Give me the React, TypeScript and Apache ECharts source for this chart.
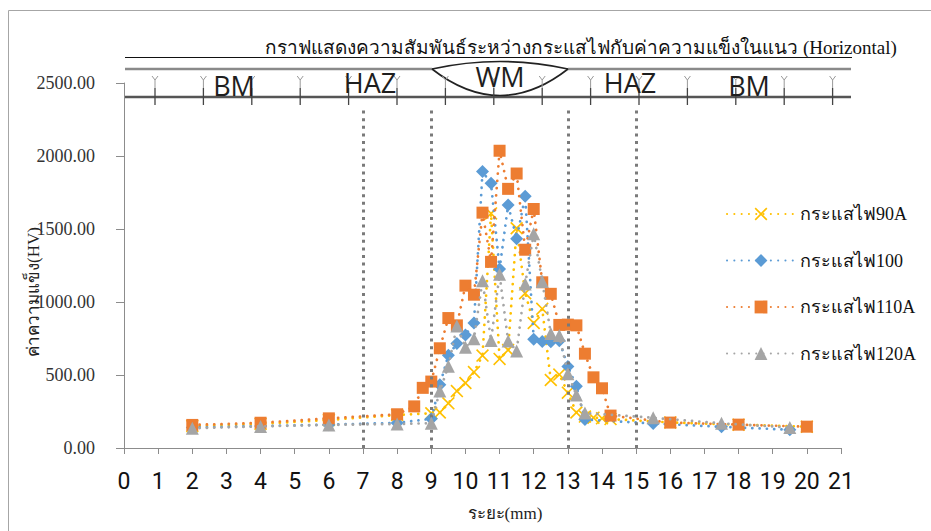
import React, { useEffect, useRef } from "react";
import * as echarts from "echarts";

// Hardness (HV) across the weld, measured along the horizontal line
const seriesNames = ["กระแสไฟ90A", "กระแสไฟ100", "กระแสไฟ110A", "กระแสไฟ120A"];

// Measuring positions (mm)
const distance90 = [
  2, 4, 6, 8, 9, 9.25, 9.5, 9.75, 10, 10.25, 10.5, 10.75, 11, 11.25, 11.5, 11.75,
  12, 12.25, 12.5, 12.75, 13, 13.25, 13.5, 13.75, 14, 14.25, 16, 18, 20,
];
const distance110 = [
  2, 4, 6, 8, 8.5, 8.75, 9, 9.25, 9.5, 9.75, 10, 10.25, 10.5, 10.75, 11, 11.25, 11.5, 11.75,
  12, 12.25, 12.5, 12.75, 13, 13.25, 13.5, 13.75, 14, 14.25, 16, 18, 20,
];
const distance100and120 = [
  2, 4, 6, 8, 9, 9.25, 9.5, 9.75, 10, 10.25, 10.5, 10.75, 11, 11.25, 11.5, 11.75, 12, 12.25,
  12.5, 12.75, 13, 13.25, 13.5, 15.5, 17.5, 19.5,
];

const hv90A = [
  150, 165, 192, 226, 238, 243, 306, 390, 445, 520, 633, 1607, 610, 671, 1505, 1060,
  856, 953, 466, 503, 379, 243, 215, 208, 203, 198, 175, 160, 146,
];
const hv110A = [
  158, 173, 203, 231, 285, 412, 455, 683, 890, 840, 1112, 1050, 1612, 1275, 2036, 1775, 1880,
  1358, 1637, 1135, 1056, 843, 845, 840, 646, 484, 409, 222, 174, 160, 146,
];
const hv100 = [
  140, 150, 160, 172, 200, 433, 635, 715, 774, 856, 1893, 1813, 1226, 1664, 1434, 1724, 745, 730,
  728, 735, 558, 423, 195, 168, 145, 125,
];
const hv120A = [
  135, 148, 158, 164, 170, 390, 560, 835, 690, 748, 1146, 737, 1190, 733, 664, 1123, 1468, 1140,
  785, 770, 509, 363, 240, 207, 169, 140,
];

// Zone boundaries (mm): BM | HAZ | WM | HAZ | BM
const zoneBoundaries = [7, 9, 13, 15];
const zoneLabels = ["BM", "HAZ", "WM", "HAZ", "BM"];

const xMin = 0;
const xMax = 21;
const yMin = 0;
const yMax = 2500;
const yStep = 500;

const COLORS = ["#FFC000", "#5B9BD5", "#ED7D31", "#A5A5A5"];
const CROSS =
  "path://M0,0.9L0.9,0L5,4.1L9.1,0L10,0.9L5.9,5L10,9.1L9.1,10L5,5.9L0.9,10L0,9.1L4.1,5Z";
const SERIF = '"Liberation Serif", "Times New Roman", serif';

function lineSeries(name: string, xs: number[], ys: number[], color: string, symbol: string, size: number, z: number) {
  return {
    name,
    type: "line",
    data: xs.map((x, i) => [x, ys[i]]),
    symbol,
    symbolSize: size,
    showAllSymbol: true,
    z,
    lineStyle: { color, width: 2.7, type: [0.1, 7.2], cap: "round" },
    itemStyle: { color, borderWidth: 0 },
    emphasis: { disabled: true },
  };
}

// Schematic of the weld zones drawn above the plot
function zoneDiagram() {
  const els: any[] = [];
  const left = 125;
  const right = 851;
  const lensL = 432;
  const lensR = 568;
  els.push(
    { type: "line", shape: { x1: left, y1: 57.5, x2: 852, y2: 57.5 }, style: { stroke: "#111", lineWidth: 1 } },
    { type: "line", shape: { x1: left, y1: 69, x2: lensL, y2: 69 }, style: { stroke: "#8a8a8a", lineWidth: 2.5 } },
    { type: "line", shape: { x1: lensR, y1: 69, x2: right, y2: 69 }, style: { stroke: "#8a8a8a", lineWidth: 2.5 } },
    { type: "line", shape: { x1: left, y1: 97, x2: right, y2: 97 }, style: { stroke: "#555", lineWidth: 2.5 } },
    {
      type: "bezierCurve",
      shape: { x1: lensL, y1: 69, cpx1: 500, cpy1: 54, x2: lensR, y2: 69 },
      style: { stroke: "#222", lineWidth: 1.6, fill: "none" },
    },
    {
      type: "bezierCurve",
      shape: { x1: lensL, y1: 69, cpx1: 500, cpy1: 122, x2: lensR, y2: 69 },
      style: { stroke: "#222", lineWidth: 1.6, fill: "none" },
    }
  );
  for (let i = 0; i < 15; i++) {
    const x = 155 + i * 48.4;
    els.push(
      { type: "line", shape: { x1: x, y1: 88, x2: x, y2: 105 }, style: { stroke: "#444", lineWidth: 1.3 } },
      { type: "line", shape: { x1: x - 3, y1: 76, x2: x, y2: 80 }, style: { stroke: "#999", lineWidth: 1 } },
      { type: "line", shape: { x1: x + 3, y1: 76, x2: x, y2: 80 }, style: { stroke: "#999", lineWidth: 1 } },
      { type: "line", shape: { x1: x, y1: 80, x2: x, y2: 88 }, style: { stroke: "#999", lineWidth: 1 } }
    );
  }
  const labelPos = [
    [234, 85],
    [370, 82],
    [500, 76],
    [630, 82],
    [749, 85],
  ];
  zoneLabels.forEach((t, i) => {
    els.push({
      type: "text",
      x: labelPos[i][0],
      y: labelPos[i][1],
      style: {
        text: t,
        font: '27px "Open Sans", "Liberation Sans", sans-serif',
        fill: "#1e1e1e",
        align: "center",
        verticalAlign: "middle",
      },
    });
  });
  return els;
}

export default function App() {
  const ref = useRef<HTMLDivElement>(null);

  useEffect(() => {
    if (!ref.current) return;
    const chart = echarts.init(ref.current, undefined, { renderer: "svg" });

    const option: any = {
      animation: false,
      backgroundColor: "#ffffff",
      grid: { left: 124, right: 90, top: 83, bottom: 83, containLabel: false },
      xAxis: {
        type: "value",
        min: xMin,
        max: xMax,
        interval: 1,
        axisLine: { show: true, onZero: false, lineStyle: { color: "#8c8c8c", width: 1 } },
        axisTick: { show: true, inside: false, length: 6, lineStyle: { color: "#8c8c8c" } },
        splitLine: { show: false },
        axisLabel: {
          margin: 22,
          fontSize: 23,
          color: "#111",
          fontFamily: '"Liberation Sans Narrow", Roboto, sans-serif',
        },
      },
      yAxis: {
        type: "value",
        min: yMin,
        max: yMax,
        interval: yStep,
        axisLine: { show: true, lineStyle: { color: "#8c8c8c", width: 1 } },
        axisTick: { show: true, inside: false, length: 8, lineStyle: { color: "#8c8c8c" } },
        splitLine: { show: false },
        axisLabel: {
          margin: 29,
          fontSize: 18,
          color: "#333",
          fontFamily: SERIF,
          formatter: (v: number) => v.toFixed(2),
        },
      },
      legend: {
        data: seriesNames,
        orient: "vertical",
        left: 721,
        top: 199,
        itemWidth: 68,
        itemHeight: 16,
        itemGap: 26.5,
        textStyle: { fontSize: 18, lineHeight: 20, color: "#111", fontFamily: SERIF },
        selectedMode: false,
      },
      series: [
        {
          name: "zone-boundaries",
          type: "line",
          data: [],
          z: 1,
          markLine: {
            silent: true,
            symbol: ["none", "none"],
            label: { show: false },
            lineStyle: { color: "#7a7a7a", width: 3, type: [3, 4.6] },
            data: zoneBoundaries.map((b) => [{ coord: [b, 0] }, { coord: [b, 2330] }]),
          },
        },
        lineSeries(seriesNames[0], distance90, hv90A, COLORS[0], CROSS, 13, 2),
        lineSeries(seriesNames[1], distance100and120, hv100, COLORS[1], "diamond", 13, 3),
        lineSeries(seriesNames[2], distance110, hv110A, COLORS[2], "rect", 12, 4),
        lineSeries(seriesNames[3], distance100and120, hv120A, COLORS[3], "triangle", 13, 5),
      ],
      graphic: [
        {
          type: "rect",
          silent: true,
          shape: { x: 8.5, y: 10.5, width: 940, height: 540 },
          style: { fill: "none", stroke: "#a6a6a6", lineWidth: 1 },
        },
        {
          type: "group",
          silent: true,
          z: 100,
          children: [
            {
              type: "text",
              x: 581,
              y: 47,
              style: {
                text: "กราฟแสดงความสัมพันธ์ระหว่างกระแสไฟกับค่าความแข็งในแนว (Horizontal)",
                font: "19px " + SERIF,
                fill: "#111",
                align: "center",
                verticalAlign: "middle",
              },
            },
            ...zoneDiagram(),
            {
              type: "text",
              x: 33,
              y: 292,
              rotation: Math.PI / 2,
              style: {
                text: "ค่าความแข็ง(HV)",
                font: "17px " + SERIF,
                fill: "#222",
                align: "center",
                verticalAlign: "middle",
              },
            },
            {
              type: "text",
              x: 505,
              y: 513,
              style: {
                text: "ระยะ(mm)",
                font: "17px " + SERIF,
                fill: "#222",
                align: "center",
                verticalAlign: "middle",
              },
            },
          ],
        },
      ],
    };

    chart.setOption(option);
    return () => chart.dispose();
  }, []);

  return (
    <div
      ref={ref}
      style={{ position: "fixed", left: 0, top: 0, width: 931, height: 531, background: "#fff" }}
    />
  );
}
